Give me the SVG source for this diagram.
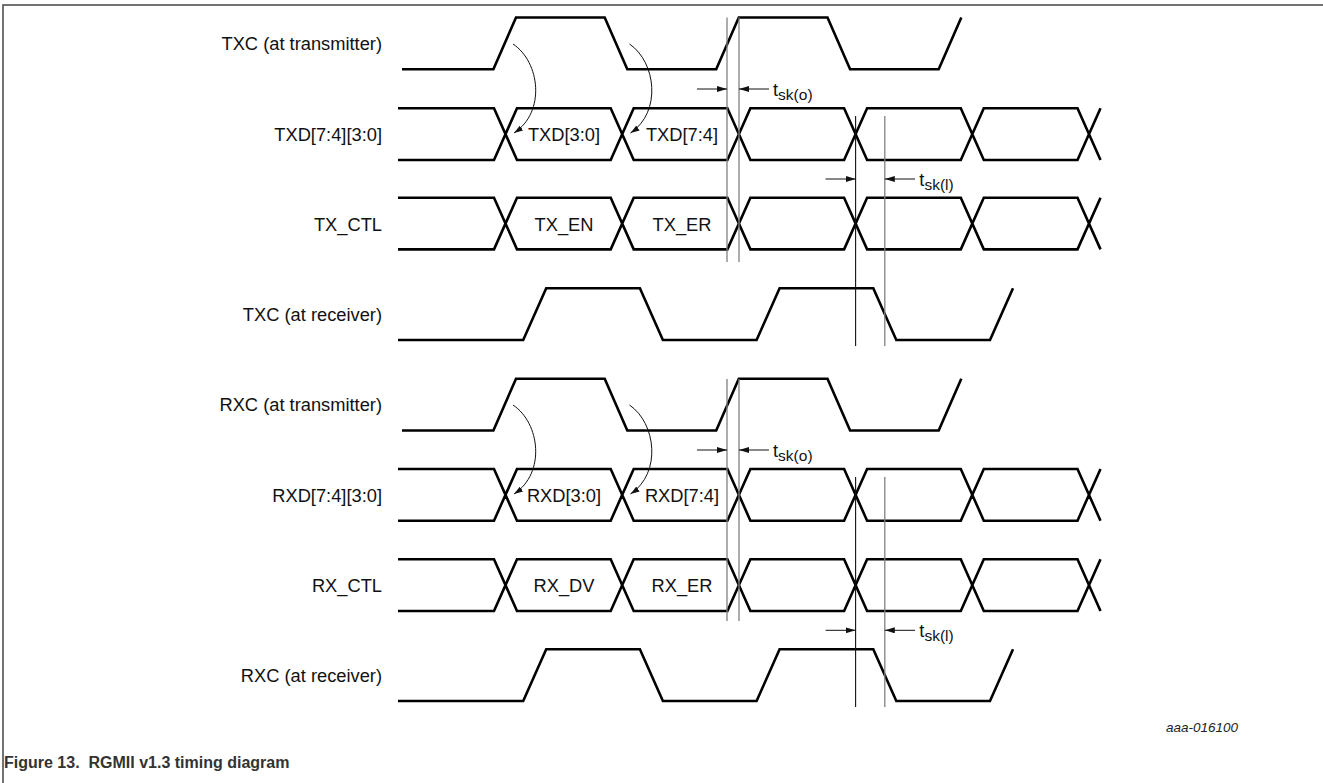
<svg xmlns="http://www.w3.org/2000/svg" xmlns:xlink="http://www.w3.org/1999/xlink" width="1323" height="783" viewBox="0 0 1323 783">
<style>
.sig{fill:none;stroke:#000;stroke-width:2.6;stroke-linejoin:miter;stroke-linecap:butt}
.lbl{font-family:"Liberation Sans",Arial,sans-serif;font-size:18.3px;fill:#111}
.r{text-anchor:end}
.m{text-anchor:middle}
.sub{font-size:15.5px}
.gl{stroke:#808080;stroke-width:1.3;fill:none}
.bl{stroke:#111;stroke-width:1.1;fill:none}
.ar{stroke:#111;stroke-width:1;fill:none}
.frame{stroke:#444;stroke-width:1.5;fill:none}
</style>
<defs>
<marker id="ah" markerUnits="userSpaceOnUse" markerWidth="10" markerHeight="6" refX="10" refY="3" orient="auto"><path d="M0,0 L10,3 L0,6 z" fill="#111"/></marker>
<marker id="ch" markerUnits="userSpaceOnUse" markerWidth="9" markerHeight="6" refX="9" refY="3" orient="auto"><path d="M0,0 L9,3 L0,6 z" fill="#111"/></marker>
<path id="dataRow" d="M398,0 H494 L517,51.7 H610.7 L633.7,0 H727.4 L750.4,51.7 H844.1 L867.1,0 H960.8 L983.8,51.7 H1077.5 L1100.5,0 M398,51.7 H494 L517,0 H610.7 L633.7,51.7 H727.4 L750.4,0 H844.1 L867.1,51.7 H960.8 L983.8,0 H1077.5 L1100.5,51.7"/>
<path id="clkTx" d="M402,51.8 H493.4 L516,0 H604.7 L627.3,51.8 H716.2 L738.8,0 H827.5 L850.1,51.8 H938.7 L961.3,0"/>
<path id="clkRx" d="M398,51.7 H523.2 L546.2,0 H639.9 L662.9,51.7 H756.6 L779.6,0 H873.3 L896.3,51.7 H990 L1013,0"/>
</defs>

<g id="frame">
<path class="frame" d="M3,783 V5 H1323"/>
</g>

<g id="txc-transmitter">
<use xlink:href="#clkTx" href="#clkTx" class="sig" y="17.5"/>
<text class="lbl r" x="382" y="50">TXC (at transmitter)</text>
</g>
<g id="txd">
<use xlink:href="#dataRow" href="#dataRow" class="sig" y="108.3"/>
<text class="lbl r" x="382" y="140.5">TXD[7:4][3:0]</text>
<text class="lbl m" x="564" y="140.5">TXD[3:0]</text>
<text class="lbl m" x="682" y="140.5">TXD[7:4]</text>
</g>
<g id="tx-ctl">
<use xlink:href="#dataRow" href="#dataRow" class="sig" y="197.7"/>
<text class="lbl r" x="382" y="230.5">TX_CTL</text>
<text class="lbl m" x="564" y="230.5">TX_EN</text>
<text class="lbl m" x="682" y="230.5">TX_ER</text>
</g>
<g id="txc-receiver">
<use xlink:href="#clkRx" href="#clkRx" class="sig" y="288.3"/>
<text class="lbl r" x="382" y="321">TXC (at receiver)</text>
</g>

<g id="rxc-transmitter">
<use xlink:href="#clkTx" href="#clkTx" class="sig" y="378.7"/>
<text class="lbl r" x="382" y="411">RXC (at transmitter)</text>
</g>
<g id="rxd">
<use xlink:href="#dataRow" href="#dataRow" class="sig" y="469"/>
<text class="lbl r" x="382" y="501.5">RXD[7:4][3:0]</text>
<text class="lbl m" x="564" y="501.5">RXD[3:0]</text>
<text class="lbl m" x="682" y="501.5">RXD[7:4]</text>
</g>
<g id="rx-ctl">
<use xlink:href="#dataRow" href="#dataRow" class="sig" y="559.3"/>
<text class="lbl r" x="382" y="591.5">RX_CTL</text>
<text class="lbl m" x="564" y="591.5">RX_DV</text>
<text class="lbl m" x="682" y="591.5">RX_ER</text>
</g>
<g id="rxc-receiver">
<use xlink:href="#clkRx" href="#clkRx" class="sig" y="649.3"/>
<text class="lbl r" x="382" y="682">RXC (at receiver)</text>
</g>

<g id="connectors">
<!-- launch arrows TX -->
<path class="ar" d="M513,44 C540,62 546,112 514,133" marker-end="url(#ch)"/>
<path class="ar" d="M629.5,44 C656,62 662,112 630.5,133" marker-end="url(#ch)"/>
<!-- launch arrows RX -->
<path class="ar" d="M513,405 C540,423 546,473 514,494" marker-end="url(#ch)"/>
<path class="ar" d="M629.5,405 C656,423 662,473 630.5,494" marker-end="url(#ch)"/>

<!-- tsk(o) TX -->
<line class="gl" x1="727" y1="17.5" x2="727" y2="262"/>
<line class="gl" x1="739" y1="17.5" x2="739" y2="262"/>
<line class="ar" x1="697" y1="89" x2="727" y2="89" marker-end="url(#ah)"/>
<line class="ar" x1="769" y1="89" x2="739" y2="89" marker-end="url(#ah)"/>
<!-- tsk(l) TX -->
<line class="bl" x1="855.6" y1="116" x2="855.6" y2="346"/>
<line class="gl" x1="884.8" y1="116" x2="884.8" y2="346"/>
<line class="ar" x1="825.6" y1="179" x2="855.6" y2="179" marker-end="url(#ah)"/>
<line class="ar" x1="915" y1="179" x2="884.8" y2="179" marker-end="url(#ah)"/>

<!-- tsk(o) RX -->
<line class="gl" x1="727" y1="379" x2="727" y2="621"/>
<line class="gl" x1="739" y1="379" x2="739" y2="621"/>
<line class="ar" x1="697" y1="450" x2="727" y2="450" marker-end="url(#ah)"/>
<line class="ar" x1="769" y1="450" x2="739" y2="450" marker-end="url(#ah)"/>
<!-- tsk(l) RX -->
<line class="bl" x1="855.6" y1="477" x2="855.6" y2="707"/>
<line class="gl" x1="884.8" y1="477" x2="884.8" y2="707"/>
<line class="ar" x1="825.6" y1="630.3" x2="855.6" y2="630.3" marker-end="url(#ah)"/>
<line class="ar" x1="915" y1="630.3" x2="884.8" y2="630.3" marker-end="url(#ah)"/>
</g>

<g id="skew-labels">
<text class="lbl" x="773" y="96">t<tspan class="sub" dy="4">sk(o)</tspan></text>
<text class="lbl" x="919.3" y="186">t<tspan class="sub" dy="4">sk(l)</tspan></text>
<text class="lbl" x="773" y="457">t<tspan class="sub" dy="4">sk(o)</tspan></text>
<text class="lbl" x="919.3" y="637">t<tspan class="sub" dy="4">sk(l)</tspan></text>
</g>

<g id="captions">
<text x="1238" y="732" style="font-family:'Liberation Sans',Arial,sans-serif;font-size:13.5px;font-style:italic;fill:#222;text-anchor:end">aaa-016100</text>
<text x="4" y="768" xml:space="preserve" style="font-family:'Liberation Sans',Arial,sans-serif;font-size:16px;font-weight:bold;fill:#333;white-space:pre">Figure 13.  RGMII v1.3 timing diagram</text>
</g>
</svg>
